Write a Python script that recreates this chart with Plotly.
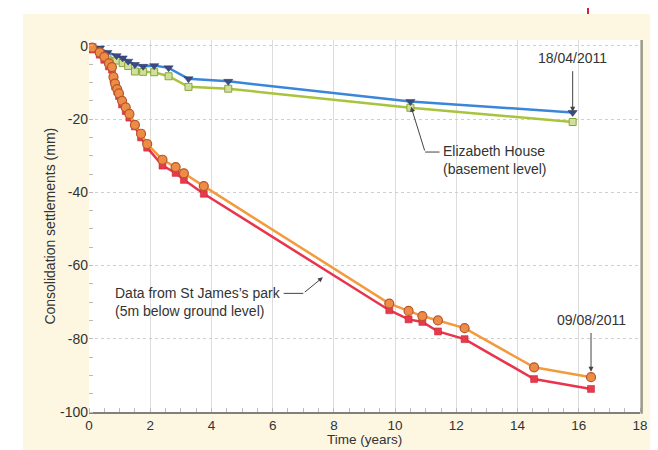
import plotly.graph_objects as go

# Elizabeth House (basement level)
eh_time = [0.09, 0.36, 0.6, 0.9, 1.1, 1.28, 1.5, 1.77, 2.13, 2.6, 3.25, 4.55, 10.5, 15.8]
eh_blue = [0, -0.6, -1.8, -2.7, -3.3, -4.2, -5.1, -5.6, -5.4, -6.0, -9.0, -9.7, -15.2, -18.2]
eh_green = [-0.6, -2.0, -2.7, -4.0, -4.7, -5.5, -7.0, -7.1, -7.2, -8.3, -11.2, -11.7, -16.9, -20.8]

# St James's park (5m below ground level)
sj_time = [0.1, 0.35, 0.5, 0.65, 0.75, 0.8, 0.85, 0.92, 0.98, 1.08, 1.2, 1.32, 1.5, 1.7, 1.9,
           2.4, 2.83, 3.1, 3.75, 9.81, 10.44, 10.89, 11.4, 12.27, 14.54, 16.4]
sj_red = [-1.0, -2.4, -3.8, -5.6, -6.5, -9.2, -11.0, -12.4, -13.7, -16.0, -17.8, -19.6, -22.0, -25.0, -27.8,
          -32.7, -34.7, -36.6, -40.4, -72.2, -74.7, -75.4, -78.0, -80.1, -91.0, -93.7]
sj_orange = [-0.5, -1.8, -3.0, -4.8, -5.8, -8.5, -10.3, -11.8, -13.0, -15.0, -16.8, -18.6, -21.6, -24.0, -26.8,
             -31.1, -33.1, -34.8, -38.3, -70.4, -72.4, -73.8, -75.0, -77.1, -87.8, -90.5]

x_ticks = [0, 2, 4, 6, 8, 10, 12, 14, 16, 18]
y_ticks = [0, -20, -40, -60, -80, -100]

FONT = "Liberation Sans, Arial, sans-serif"
CREAM = "#fdf7e2"

fig = go.Figure()

fig.add_trace(go.Scatter(x=eh_time, y=eh_green, mode="lines+markers",
                         line=dict(color="#a8c43c", width=2.5),
                         marker=dict(symbol="square", size=7, color="#cfe09a",
                                     line=dict(color="#8aa43a", width=1))))
fig.add_trace(go.Scatter(x=eh_time, y=eh_blue, mode="lines+markers",
                         line=dict(color="#3a86d8", width=2.5),
                         marker=dict(symbol="triangle-down", size=8, color="#3c4a82",
                                     line=dict(color="#2a3566", width=0.5))))
fig.add_trace(go.Scatter(x=sj_time, y=sj_red, mode="lines+markers",
                         line=dict(color="#e8344c", width=2.5),
                         marker=dict(symbol="square", size=7, color="#e83a4a",
                                     line=dict(color="#c02038", width=0.5))))
fig.add_trace(go.Scatter(x=sj_time, y=sj_orange, mode="lines+markers",
                         line=dict(color="#f39a3c", width=2.5),
                         marker=dict(symbol="circle", size=9, color="#ec8c46",
                                     line=dict(color="#b8562a", width=1.2))))

annos = []
txt_font = dict(family=FONT, size=14, color="#333333")
# 18/04/2011
annos.append(dict(x=15.8, y=-18.0, ax=15.8, ay=-6.5, xref="x", yref="y", axref="x", ayref="y",
                  text="", showarrow=True, arrowhead=2, arrowsize=1, arrowwidth=1, arrowcolor="#444"))
annos.append(dict(x=15.8, y=-3.3, xref="x", yref="y", text="18/04/2011", showarrow=False, font=txt_font))
# Elizabeth House
annos.append(dict(x=10.52, y=-16.6, ax=10.98, ay=-29.0, xref="x", yref="y", axref="x", ayref="y",
                  text="", showarrow=True, arrowhead=2, arrowsize=1, arrowwidth=1, arrowcolor="#444"))
annos.append(dict(x=11.5, y=-31.3, xref="x", yref="y", xanchor="left", align="left",
                  text="Elizabeth House<br>(basement level)", showarrow=False, font=txt_font))
# St James's park
annos.append(dict(x=7.64, y=-63.2, ax=7.0, ay=-67.6, xref="x", yref="y", axref="x", ayref="y",
                  text="", showarrow=True, arrowhead=2, arrowsize=1, arrowwidth=1, arrowcolor="#444"))
annos.append(dict(x=0.8, y=-70.0, xref="x", yref="y", xanchor="left", align="left",
                  text="Data from St James\u2019s park<br>(5m below ground level)", showarrow=False, font=txt_font))
# 09/08/2011
annos.append(dict(x=16.4, y=-89.0, ax=16.4, ay=-78.0, xref="x", yref="y", axref="x", ayref="y",
                  text="", showarrow=True, arrowhead=2, arrowsize=1, arrowwidth=1, arrowcolor="#444"))
annos.append(dict(x=16.4, y=-74.8, xref="x", yref="y", text="09/08/2011", showarrow=False, font=txt_font))
# axis titles
annos.append(dict(x=0.5, y=-0.1, xref="paper", yref="paper", xanchor="center", yanchor="bottom",
                  text="Time (years)", showarrow=False, font=dict(family=FONT, size=13.5, color="#333333")))
annos.append(dict(x=-0.0715, y=0.5, xref="paper", yref="paper", xanchor="center", yanchor="middle",
                  text="Consolidation settlements (mm)", textangle=-90, showarrow=False,
                  font=dict(family=FONT, size=14, color="#333333")))

shapes = [
    # white strip at top of page
    dict(type="rect", xref="paper", yref="paper", x0=-0.2, x1=1.1, y0=1.0699, y1=1.2,
         fillcolor="white", line=dict(width=0), layer="below"),
    # white strip at left of page
    dict(type="rect", xref="paper", yref="paper", x0=-0.2, x1=-0.1198, y0=-0.2, y1=1.2,
         fillcolor="white", line=dict(width=0), layer="below"),
    # red marker line at top right
    dict(type="line", xref="paper", yref="paper", x0=0.9056, x1=0.9056, y0=1.0699, y1=1.1,
         line=dict(color="#d8203c", width=2)),
    # right-edge shadow
    dict(type="line", xref="paper", yref="paper", x0=1.003, x1=1.003, y0=-0.005, y1=1.0,
         line=dict(color="#9a9a90", width=2.5)),
    # annotation leader lines
    dict(type="line", xref="x", yref="y", x0=10.98, y0=-29.0, x1=11.45, y1=-29.0,
         line=dict(color="#444", width=1)),
    dict(type="line", xref="x", yref="y", x0=6.36, y0=-67.6, x1=7.0, y1=-67.6,
         line=dict(color="#444", width=1)),
]

fig.update_layout(
    width=650, height=442,
    margin=dict(l=81, r=18, t=32, b=38),
    paper_bgcolor=CREAM, plot_bgcolor="white",
    showlegend=False,
    font=dict(family=FONT, size=13, color="#333333"),
    annotations=annos, shapes=shapes,
)
fig.update_xaxes(range=[0, 18], tickvals=x_ticks, ticktext=[str(v) for v in x_ticks],
                 automargin=False,
                 showgrid=True, gridcolor="#dcdcdc", gridwidth=1, zeroline=False,
                 showline=True, linecolor="#808080", linewidth=2, mirror=False,
                 ticks="", minor=dict(ticks="inside", dtick=0.5, ticklen=4, tickcolor="#bbbbbb", showgrid=False),
                 tickfont=dict(size=13.5, color="#333333"))
fig.update_yaxes(range=[-100, 1.6], tickvals=y_ticks, ticktext=[str(v) for v in y_ticks],
                 automargin=False,
                 showgrid=True, gridcolor="#cfcfcf", gridwidth=1, griddash="dot", zeroline=False,
                 showline=False,
                 ticks="", minor=dict(ticks="inside", dtick=5, ticklen=4, tickcolor="#bbbbbb", showgrid=False),
                 tickfont=dict(size=14, color="#333333"))

fig.write_html("out.html")
